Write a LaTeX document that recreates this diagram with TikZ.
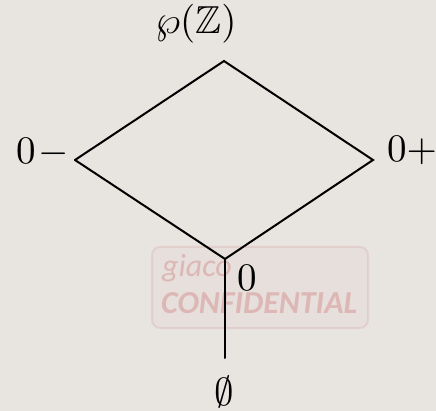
\documentclass[tikz,border=0pt]{standalone}
\usepackage{amssymb}
\usepackage{graphicx}
\usepackage{fontspec}
\newfontfamily\wmfont{Carlito}
\definecolor{bgc}{RGB}{232,228,224}
\definecolor{wmc}{RGB}{205,120,120}
\newcommand{\lbtxt}[1]{\scalebox{3.9}{$#1$}}
\begin{document}
\begin{tikzpicture}[x=1pt,y=-1pt,
  lbl/.style={inner sep=0pt},
  edge/.style={line width=2pt,line cap=round,line join=miter},
  wm/.style={inner sep=0pt,text=wmc,text opacity=0.38,font=\wmfont\fontsize{32}{38}\selectfont}]
\fill[bgc] (0,0) rectangle (436,411);
\useasboundingbox (0,0) rectangle (436,411);
% watermark
\draw[wmc,draw opacity=0.16,fill=wmc,fill opacity=0.04,line width=2pt,rounded corners=8pt]
  (152,247) rectangle (368,328);
\node[wm,anchor=base west] (wmA) at (162,277) {\itshape giaco};
\node[wm,anchor=base west] (wmB) at (161,313) {\bfseries\itshape CONFIDENTIAL};
% vertices
\coordinate (top) at (224,61);
\coordinate (lft) at (75,160);
\coordinate (rgt) at (373,160);
\coordinate (bot) at (225,259);
\coordinate (end) at (225,358);
% labels
\node[lbl,anchor=base] (pZ) at (196,34) {\lbtxt{\wp(\mathbb{Z})}};
\node[lbl,anchor=base west] (zm) at (16,164) {\lbtxt{0\mkern1.5mu{-}}};
\node[lbl,anchor=base west] (zp) at (387,162) {\lbtxt{0{+}}};
\node[lbl,anchor=base west] (z0) at (237,291) {\lbtxt{0}};
\node[lbl,anchor=base] (em) at (224,405) {\lbtxt{\emptyset}};
% edges
\draw[edge] (lft) -- (top) -- (rgt) -- (bot) -- (lft);
\draw[edge] (bot) -- (end);
\end{tikzpicture}
\end{document}
